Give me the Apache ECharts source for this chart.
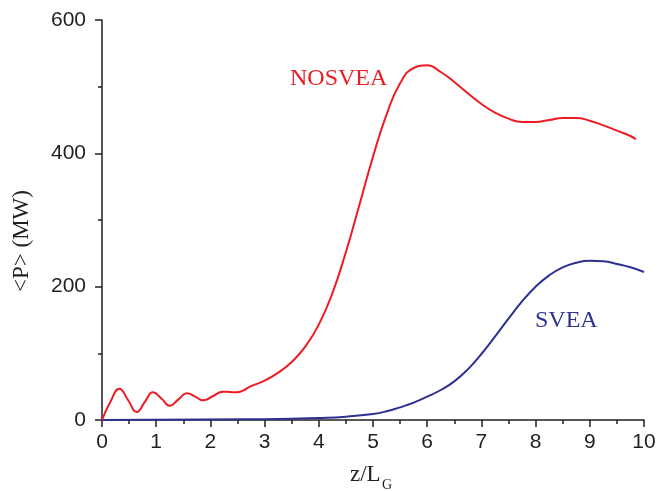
<!DOCTYPE html>
<html>
<head>
<meta charset="utf-8">
<script src="https://cdn.jsdelivr.net/npm/echarts@6/dist/echarts.min.js"></script>
<style>html,body{margin:0;padding:0;background:#fff}#c{width:667px;height:491px}</style>
</head>
<body>
<div id="c"></div>
<script>
// NOSVEA curve: z/L_G and <P> (MW)
const nosveaX = [0, 0.16, 0.32, 0.48, 0.64, 0.79, 0.94, 1.1, 1.25, 1.41, 1.57, 1.72, 1.87, 2.05, 2.23, 2.36, 2.48, 2.6, 2.73, 3.0, 3.25, 3.5, 3.75, 4.0, 4.25, 4.5, 4.75, 5.0, 5.25, 5.5, 5.75, 6.0, 6.25, 6.5, 6.75, 7.0, 7.25, 7.5, 7.75, 8.0, 8.25, 8.5, 8.75, 9.0, 9.25, 9.5, 9.75, 9.85];
const nosveaY = [0, 28, 47, 30, 12, 27, 41.5, 32, 21.5, 31, 40, 35, 29.5, 36, 42.5, 42, 41.5, 44, 50, 59, 71, 87, 110, 143, 190, 252, 323, 395, 458, 505, 528, 532, 522, 507, 490, 474, 461, 452, 447, 447, 450, 453, 453, 449, 442, 434, 426, 421];
// SVEA curve
const sveaX = [0, 2.7, 3.5, 4.0, 4.5, 5.0, 5.25, 5.5, 5.75, 6.0, 6.25, 6.5, 6.75, 7.0, 7.25, 7.5, 7.75, 8.0, 8.25, 8.5, 8.75, 9.0, 9.25, 9.5, 9.75, 10];
const sveaY = [0, 1, 2, 3, 5, 9, 13, 19, 26, 35, 45, 58, 76, 99, 125, 152, 178, 200, 217, 229, 236, 239, 238, 234, 229, 222];
const xTicks = [0, 1, 2, 3, 4, 5, 6, 7, 8, 9, 10];
const yTicks = [0, 200, 400, 600];

const pair = (xs, ys) => xs.map((x, i) => [x, ys[i]]);
const axisColor = '#231f20';
const chart = echarts.init(document.getElementById('c'));
chart.setOption({
  animation: false,
  backgroundColor: '#fff',
  grid: {left: 102, right: 23, top: 20, bottom: 71},
  xAxis: {
    type: 'value', min: xTicks[0], max: xTicks[xTicks.length - 1], interval: 1,
    axisLine: {show: true, lineStyle: {color: axisColor, width: 1.5}},
    axisTick: {show: true, inside: false, length: 7, lineStyle: {color: axisColor, width: 1.5}},
    minorTick: {show: true, splitNumber: 2, length: 4, lineStyle: {color: axisColor, width: 1.5}},
    splitLine: {show: false},
    axisLabel: {color: '#231f20', fontSize: 21, fontFamily: 'Liberation Sans', margin: 12}
  },
  yAxis: {
    type: 'value', min: yTicks[0], max: yTicks[yTicks.length - 1], interval: 200,
    axisLine: {show: true, lineStyle: {color: axisColor, width: 1.5}},
    axisTick: {show: true, inside: false, length: 7, lineStyle: {color: axisColor, width: 1.5}},
    minorTick: {show: true, splitNumber: 2, length: 4, lineStyle: {color: axisColor, width: 1.5}},
    splitLine: {show: false},
    axisLabel: {color: '#231f20', fontSize: 21, fontFamily: 'Liberation Sans', margin: 16}
  },
  series: [
    {name: 'NOSVEA', type: 'line', data: pair(nosveaX, nosveaY), smooth: 0.5, showSymbol: false,
     lineStyle: {color: '#ed1c24', width: 2}, z: 3},
    {name: 'SVEA', type: 'line', data: pair(sveaX, sveaY), smooth: 0.5, showSymbol: false,
     lineStyle: {color: '#2e3192', width: 2}, z: 2}
  ],
  graphic: [
    {type: 'text', left: 290, top: 67, style: {text: 'NOSVEA', fill: '#ed1c24', font: '24px "Liberation Serif"'}},
    {type: 'text', left: 535, top: 309, style: {text: 'SVEA', fill: '#2e3192', font: '24px "Liberation Serif"'}},
    {type: 'text', x: 22, y: 241, rotation: Math.PI / 2,
     style: {text: '<P> (MW)', fill: '#231f20', font: '23px "Liberation Serif"', align: 'center', verticalAlign: 'middle'}},
    {type: 'text', left: 350, top: 463, style: {text: 'z/L', fill: '#231f20', font: '23px "Liberation Serif"'}},
    {type: 'text', left: 382, top: 478, style: {text: 'G', fill: '#231f20', font: '14px "Liberation Serif"'}}
  ]
});
</script>
</body>
</html>
